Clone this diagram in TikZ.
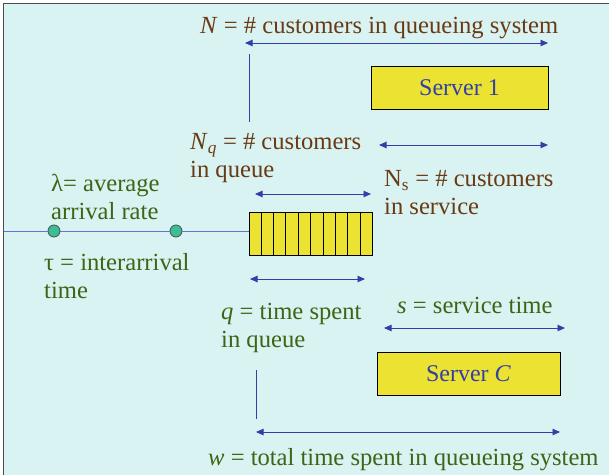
\documentclass[tikz,border=0pt]{standalone}
\usepackage{fontspec}
\setmainfont{Liberation Serif}
\usetikzlibrary{arrows.meta,positioning,calc}
\definecolor{panelbg}{RGB}{217,243,242}
\definecolor{srvyellow}{RGB}{236,226,50}
\definecolor{numbrown}{RGB}{105,58,20}
\definecolor{timegreen}{RGB}{62,100,22}
\definecolor{arrblue}{RGB}{48,64,168}
\definecolor{lineblue}{RGB}{96,118,214}
\definecolor{dotgreen}{RGB}{58,190,150}

\begin{document}
\begin{tikzpicture}[x=1pt, y=-1pt, font=\fontsize{24.6}{27.5}\selectfont,
  lbl/.style={anchor=base west, inner sep=0pt, align=left},
  cnt/.style={lbl, text=numbrown},
  tim/.style={lbl, text=timegreen},
  srv/.style={draw=black, line width=1pt, fill=srvyellow, text=arrblue, inner sep=0pt,
              font=\fontsize{24}{27.5}\selectfont},
  span/.style={{Triangle[length=7.5pt,width=6.5pt]}-{Triangle[length=7.5pt,width=6.5pt]},
               draw=arrblue, line width=0.9pt},
  tick/.style={draw=arrblue, line width=0.9pt},
  cust/.style={circle, draw=black!70, line width=0.8pt, fill=dotgreen, minimum size=12pt, inner sep=0pt}]
\useasboundingbox (0,0) rectangle (609,474);
\draw[fill=panelbg, draw=black!70, line width=1.5pt] (3.5,3.5) rectangle (615,480);

% servers and queue
\node[srv, minimum width=177pt, minimum height=43pt] (srv1) at (459.5,88) {Server 1};
\node[srv, minimum width=183pt, minimum height=43pt] (srvC) at (468.5,373.5) {Server \textit{C}};
\node[srv, minimum width=123pt, minimum height=43pt] (queue) at (310.5,233.5) {};
\foreach \i in {1,...,9}
  \draw[black, line width=0.8pt] ($(queue.north west)!\i/10!(queue.north east)$)
    -- ($(queue.south west)!\i/10!(queue.south east)$);

% arrival line
\coordinate (src) at (4,231);
\node[cust] (c1) at (54,231) {};
\node[cust] (c2) at (176,231) {};
\draw[lineblue, line width=0.9pt] (src) -- (c1) (c1) -- (c2) (c2) -- (queue.west|-c2);

% labels (anchored at the baseline of the last line)
\node[cnt] (Nlbl) at (200,33) {\textit{N} = \# customers in queueing system};
\node[cnt] (Nqlbl) at (190,177) {\textit{N}\textsubscript{\textit{q}} = \# customers\\in queue};
\node[cnt] (Nslbl) at (384,214) {N\textsubscript{s} = \# customers\\in service};
\node[tim] (lamlbl) at (51,219) {λ= average\\arrival rate};
\node[tim] (taulbl) at (44,298) {τ = interarrival\\time};
\node[tim] (qlbl) at (221,347) {\textit{q} = time spent\\in queue};
\node[tim] (slbl) at (397,313) {\textit{s} = service time};
\node[tim] (wlbl) at (208,465) {\textit{w} = total time spent in queueing system};

% spans
\coordinate (Na) at (245,43);  \coordinate (Nb) at (548,43);
\coordinate (Nsa) at (379,145); \coordinate (Nsb) at (548,145);
\coordinate (Nqa) at (255,194); \coordinate (Nqb) at (371,194);
\coordinate (qa) at (250,279);  \coordinate (qb) at (365,279);
\coordinate (sa) at (384,328);  \coordinate (sb) at (565,328);
\coordinate (wa) at (256,432);  \coordinate (wb) at (560,432);
\draw[span] (Na) -- (Nb);
\draw[span] (Nsa) -- (Nsb);
\draw[span] (Nqa) -- (Nqb);
\draw[span] (qa) -- (qb);
\draw[span] (sa) -- (sb);
\draw[span] (wa) -- (wb);
\coordinate (t1a) at (249,54);  \coordinate (t1b) at (249,122);
\coordinate (t2a) at (256,370); \coordinate (t2b) at (256,419);
\draw[tick] (t1a) -- (t1b);
\draw[tick] (t2a) -- (t2b);
\end{tikzpicture}
\end{document}
